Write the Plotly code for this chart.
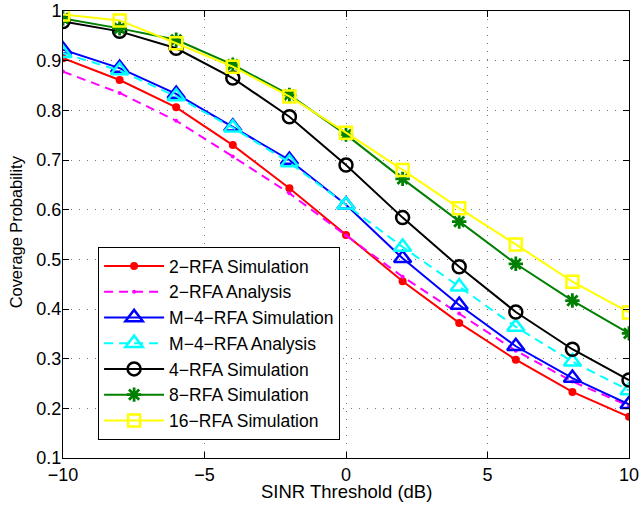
import plotly.graph_objects as go

sinr_db = [-10, -8, -6, -4, -2, 0, 2, 4, 6, 8, 10]

rfa2_sim = [0.905, 0.861, 0.806, 0.730, 0.643, 0.549, 0.456, 0.372, 0.298, 0.233, 0.183]
rfa2_ana = [0.878, 0.835, 0.779, 0.707, 0.633, 0.548, 0.465, 0.391, 0.316, 0.254, 0.205]
m4_sim = [0.922, 0.885, 0.833, 0.767, 0.700, 0.610, 0.502, 0.408, 0.325, 0.261, 0.208]
m4_ana = [0.915, 0.880, 0.828, 0.765, 0.695, 0.610, 0.525, 0.445, 0.364, 0.294, 0.236]
rfa4_sim = [0.979, 0.959, 0.925, 0.865, 0.787, 0.690, 0.584, 0.485, 0.394, 0.319, 0.257]
rfa8_sim = [0.985, 0.965, 0.942, 0.892, 0.831, 0.751, 0.662, 0.576, 0.491, 0.417, 0.351]
rfa16_sim = [0.993, 0.981, 0.935, 0.888, 0.828, 0.755, 0.680, 0.603, 0.530, 0.455, 0.393]

names = ["2\u2212RFA Simulation", "2\u2212RFA Analysis", "M\u22124\u2212RFA Simulation",
         "M\u22124\u2212RFA Analysis", "4\u2212RFA Simulation", "8\u2212RFA Simulation",
         "16\u2212RFA Simulation"]

x_title = "SINR Threshold (dB)"
y_title = "Coverage Probability"

x_tickvals = [-10, -5, 0, 5, 10]
x_ticktext = ["\u221210", "\u22125", "0", "5", "10"]
y_tickvals = [0.1, 0.2, 0.3, 0.4, 0.5, 0.6, 0.7, 0.8, 0.9, 1.0]
y_ticktext = ["0.1", "0.2", "0.3", "0.4", "0.5", "0.6", "0.7", "0.8", "0.9", "1"]

series = [
    (rfa2_sim, names[0], dict(color="#ff0000", width=2), dict(symbol="circle", size=8, color="#ff0000")),
    (rfa2_ana, names[1], dict(color="#ff00ff", width=2, dash="9px,6px"), dict(symbol="circle", size=4, color="#ff00ff")),
    (m4_sim, names[2], dict(color="#0000ff", width=2), dict(symbol="triangle-up-open", size=15, color="#0000ff", line=dict(width=2.5, color="#0000ff"))),
    (m4_ana, names[3], dict(color="#00ffff", width=2, dash="9px,6px"), dict(symbol="triangle-up-open", size=15, color="#00ffff", line=dict(width=2.5, color="#00ffff"))),
    (rfa4_sim, names[4], dict(color="#000000", width=2), dict(symbol="circle-open", size=13, color="#000000", line=dict(width=2.5, color="#000000"))),
    (rfa8_sim, names[5], dict(color="#008000", width=2), dict(symbol="asterisk-open", size=12, color="#008000", line=dict(width=2.8, color="#008000"))),
    (rfa16_sim, names[6], dict(color="#ffff00", width=2), dict(symbol="square-open", size=12, color="#ffff00", line=dict(width=2.5, color="#ffff00"))),
]

fig = go.Figure()
for ys, nm, ln, mk in series:
    fig.add_trace(go.Scatter(x=sinr_db, y=ys, name=nm, mode="lines+markers", line=ln, marker=mk))

font_family = "Liberation Sans, Arial, sans-serif"
fig.update_layout(
    width=639, height=506,
    margin=dict(l=63, r=10, t=11, b=48, autoexpand=False),
    paper_bgcolor="white", plot_bgcolor="white",
    font=dict(family=font_family, size=18, color="black"),
    showlegend=True,
    legend=dict(
        x=0.062, y=0.472, xanchor="left", yanchor="top",
        bgcolor="white", bordercolor="black", borderwidth=1,
        font=dict(family=font_family, size=17.5, color="black"),
        itemwidth=60, tracegroupgap=0,
    ),
    annotations=[
        dict(text=x_title, xref="paper", yref="paper", x=0.5, y=-0.075,
             xanchor="center", yanchor="middle", showarrow=False,
             font=dict(family=font_family, size=18.5, color="black")),
        dict(text=y_title, xref="paper", yref="paper", x=-0.083, y=0.505,
             xanchor="center", yanchor="middle", showarrow=False, textangle=-90,
             font=dict(family=font_family, size=16.4, color="black")),
    ],
)
fig.update_xaxes(
    range=[-10, 10], tickvals=x_tickvals, ticktext=x_ticktext,
    automargin=False, ticklabeloverflow="allow",
    showline=True, linecolor="black", linewidth=1, mirror="ticks",
    ticks="inside", ticklen=6, tickcolor="black",
    showgrid=True, gridcolor="#777777", griddash="1px,7px", gridwidth=1,
    zeroline=False,
    tickfont=dict(size=18),
)
fig.update_yaxes(
    range=[0.1, 1.0], tickvals=y_tickvals, ticktext=y_ticktext,
    automargin=False, ticklabeloverflow="allow", ticklabelstandoff=-3,
    showline=True, linecolor="black", linewidth=1, mirror="ticks",
    ticks="inside", ticklen=6, tickcolor="black",
    showgrid=True, gridcolor="#777777", griddash="1px,7px", gridwidth=1,
    zeroline=False,
    tickfont=dict(size=18),
)

fig.write_html("out.html", config={"displayModeBar": False},
               post_script="document.body.style.margin='0';document.body.style.overflow='hidden';")
